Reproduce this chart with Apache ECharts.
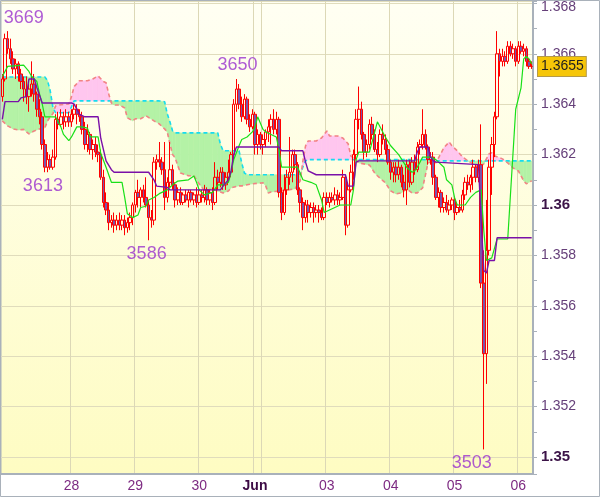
<!DOCTYPE html>
<html><head><meta charset="utf-8">
<script src="https://cdn.jsdelivr.net/npm/echarts/dist/echarts.min.js"></script>
<style>html,body{margin:0;padding:0;background:#fff}#c{width:600px;height:497px}</style>
</head><body><div id="c"></div>
<script>
// ---- DATA ----
const opens = [
1.3643,1.3650,1.3666,1.3662,1.3658,1.3654,1.3656,1.3652,1.3649,1.3646,
1.3643,1.3646,1.3648,1.3644,1.3638,1.3635,1.3624,1.3615,1.3618,1.3615,
1.3619,1.3634,1.3632,1.3635,1.3633,1.3635,1.3633,1.3636,1.3638,1.3636,
1.3635,1.3630,1.3624,1.3628,1.3622,1.3624,1.3621,1.3620,1.3611,1.3601,
1.3598,1.3593,1.3594,1.3592,1.3594,1.3592,1.3594,1.3591,1.3593,1.3595,
1.3600,1.3605,1.3603,1.3606,1.3603,1.3600,1.3595,1.3594,1.3617,1.3618,
1.3617,1.3614,1.3603,1.3609,1.3614,1.3608,1.3602,1.3605,1.3601,1.3604,
1.3602,1.3605,1.3602,1.3604,1.3601,1.3604,1.3603,1.3606,1.3602,1.3605,
1.3601,1.3611,1.3609,1.3613,1.3608,1.3611,1.3613,1.3620,1.3640,1.3646,
1.3640,1.3635,1.3642,1.3634,1.3631,1.3636,1.3624,1.3628,1.3624,1.3626,
1.3629,1.3631,1.3634,1.3630,1.3634,1.3605,1.3597,1.3606,1.3611,1.3613,
1.3620,1.3616,1.3606,1.3601,1.3595,1.3600,1.3597,1.3599,1.3597,1.3598,
1.3597,1.3595,1.3603,1.3601,1.3603,1.3602,1.3604,1.3602,1.3603,1.3611,
1.3592,1.3606,1.3613,1.3620,1.3634,1.3638,1.3628,1.3621,1.3624,1.3632,
1.3628,1.3622,1.3620,1.3628,1.3626,1.3622,1.3617,1.3613,1.3615,1.3612,
1.3615,1.3609,1.3606,1.3616,1.3609,1.3617,1.3614,1.3623,1.3624,1.3628,
1.3623,1.3618,1.3619,1.3611,1.3603,1.3605,1.3599,1.3601,1.3598,1.3600,
1.3602,1.3597,1.3599,1.3598,1.3604,1.3609,1.3608,1.3611,1.3615,1.3611,
1.3616,1.3569,1.3541,1.3582,1.3615,1.3624,1.3635,1.3660,1.3657,1.3659,
1.3657,1.3663,1.3660,1.3662,1.3657,1.3663,1.3661,1.3662,1.3657,1.3655];
const closes = [
1.3650,1.3666,1.3662,1.3658,1.3654,1.3656,1.3652,1.3649,1.3646,1.3643,
1.3646,1.3648,1.3644,1.3638,1.3635,1.3624,1.3615,1.3618,1.3615,1.3619,
1.3634,1.3632,1.3635,1.3633,1.3635,1.3633,1.3636,1.3638,1.3636,1.3635,
1.3630,1.3624,1.3628,1.3622,1.3624,1.3621,1.3620,1.3611,1.3601,1.3598,
1.3593,1.3594,1.3592,1.3594,1.3592,1.3594,1.3591,1.3593,1.3595,1.3600,
1.3605,1.3603,1.3606,1.3603,1.3600,1.3595,1.3594,1.3617,1.3618,1.3617,
1.3614,1.3603,1.3609,1.3614,1.3608,1.3602,1.3605,1.3601,1.3604,1.3602,
1.3605,1.3602,1.3604,1.3601,1.3604,1.3603,1.3606,1.3602,1.3605,1.3601,
1.3611,1.3609,1.3613,1.3608,1.3611,1.3613,1.3620,1.3640,1.3646,1.3640,
1.3635,1.3642,1.3634,1.3631,1.3636,1.3624,1.3628,1.3624,1.3626,1.3629,
1.3631,1.3634,1.3630,1.3634,1.3605,1.3597,1.3606,1.3611,1.3613,1.3620,
1.3616,1.3606,1.3601,1.3595,1.3600,1.3597,1.3599,1.3597,1.3598,1.3597,
1.3595,1.3603,1.3601,1.3603,1.3602,1.3604,1.3602,1.3603,1.3611,1.3592,
1.3606,1.3613,1.3620,1.3634,1.3638,1.3628,1.3621,1.3624,1.3632,1.3628,
1.3622,1.3620,1.3628,1.3626,1.3622,1.3617,1.3613,1.3615,1.3612,1.3615,
1.3609,1.3606,1.3616,1.3609,1.3617,1.3614,1.3623,1.3624,1.3628,1.3623,
1.3618,1.3619,1.3611,1.3603,1.3605,1.3599,1.3601,1.3598,1.3600,1.3602,
1.3597,1.3599,1.3598,1.3604,1.3609,1.3608,1.3611,1.3615,1.3611,1.3616,
1.3569,1.3541,1.3582,1.3615,1.3624,1.3635,1.3660,1.3657,1.3659,1.3657,
1.3663,1.3660,1.3662,1.3657,1.3663,1.3661,1.3662,1.3657,1.3655,1.3655];
const lows = [
1.3641,1.3649,1.3660,1.3656,1.3652,1.3650,1.3649,1.3646,1.3641,1.3640,
1.3637,1.3643,1.3641,1.3635,1.3632,1.3622,1.3613,1.3613,1.3614,1.3614,
1.3618,1.3630,1.3631,1.3630,1.3631,1.3631,1.3631,1.3634,1.3632,1.3633,
1.3628,1.3622,1.3621,1.3620,1.3618,1.3619,1.3617,1.3610,1.3599,1.3596,
1.3590,1.3591,1.3589,1.3590,1.3590,1.3590,1.3588,1.3589,1.3590,1.3592,
1.3597,1.3599,1.3599,1.3601,1.3599,1.3586,1.3591,1.3592,1.3614,1.3615,
1.3612,1.3598,1.3601,1.3607,1.3606,1.3599,1.3600,1.3600,1.3600,1.3601,
1.3599,1.3601,1.3600,1.3599,1.3600,1.3601,1.3601,1.3600,1.3600,1.3598,
1.3600,1.3606,1.3607,1.3606,1.3606,1.3609,1.3611,1.3618,1.3637,1.3638,
1.3633,1.3634,1.3632,1.3629,1.3630,1.3620,1.3620,1.3622,1.3620,1.3623,
1.3625,1.3624,1.3628,1.3628,1.3603,1.3594,1.3596,1.3604,1.3608,1.3609,
1.3614,1.3604,1.3597,1.3590,1.3593,1.3593,1.3595,1.3593,1.3595,1.3593,
1.3594,1.3594,1.3600,1.3599,1.3601,1.3600,1.3600,1.3600,1.3602,1.3588,
1.3591,1.3605,1.3610,1.3618,1.3630,1.3626,1.3618,1.3619,1.3622,1.3626,
1.3621,1.3617,1.3619,1.3624,1.3620,1.3616,1.3610,1.3609,1.3609,1.3610,
1.3607,1.3603,1.3600,1.3607,1.3608,1.3612,1.3613,1.3620,1.3622,1.3622,
1.3616,1.3616,1.3608,1.3602,1.3599,1.3597,1.3597,1.3597,1.3596,1.3598,
1.3594,1.3596,1.3597,1.3597,1.3602,1.3606,1.3605,1.3606,1.3609,1.3609,
1.3567,1.3503,1.3529,1.3580,1.3604,1.3619,1.3634,1.3651,1.3655,1.3655,
1.3656,1.3659,1.3658,1.3655,1.3656,1.3660,1.3659,1.3655,1.3654,1.3654];
const highs = [
1.3652,1.3668,1.3669,1.3666,1.3661,1.3658,1.3657,1.3654,1.3651,1.3651,
1.3648,1.3657,1.3652,1.3645,1.3642,1.3637,1.3626,1.3621,1.3620,1.3622,
1.3636,1.3637,1.3638,1.3637,1.3638,1.3637,1.3638,1.3640,1.3640,1.3638,
1.3637,1.3633,1.3632,1.3629,1.3626,1.3627,1.3624,1.3622,1.3614,1.3605,
1.3601,1.3596,1.3597,1.3596,1.3597,1.3596,1.3596,1.3595,1.3597,1.3601,
1.3606,1.3610,1.3607,1.3608,1.3611,1.3602,1.3598,1.3619,1.3620,1.3625,
1.3619,1.3625,1.3611,1.3625,1.3616,1.3609,1.3607,1.3607,1.3605,1.3606,
1.3606,1.3606,1.3605,1.3607,1.3606,1.3606,1.3608,1.3607,1.3606,1.3607,
1.3617,1.3614,1.3615,1.3615,1.3613,1.3618,1.3621,1.3642,1.3650,1.3648,
1.3643,1.3644,1.3643,1.3636,1.3638,1.3637,1.3630,1.3629,1.3628,1.3630,
1.3634,1.3636,1.3638,1.3637,1.3635,1.3607,1.3612,1.3614,1.3627,1.3622,
1.3622,1.3617,1.3607,1.3603,1.3602,1.3602,1.3601,1.3601,1.3600,1.3600,
1.3599,1.3605,1.3605,1.3605,1.3605,1.3607,1.3606,1.3605,1.3614,1.3612,
1.3608,1.3616,1.3622,1.3638,1.3647,1.3641,1.3629,1.3626,1.3634,1.3635,
1.3630,1.3625,1.3630,1.3632,1.3628,1.3624,1.3618,1.3617,1.3617,1.3618,
1.3616,1.3612,1.3618,1.3618,1.3619,1.3620,1.3625,1.3626,1.3638,1.3630,
1.3624,1.3621,1.3621,1.3612,1.3607,1.3606,1.3603,1.3604,1.3602,1.3603,
1.3603,1.3601,1.3602,1.3606,1.3611,1.3612,1.3612,1.3618,1.3616,1.3618,
1.3632,1.3582,1.3602,1.3618,1.3627,1.3637,1.3669,1.3662,1.3662,1.3661,
1.3665,1.3665,1.3664,1.3663,1.3665,1.3665,1.3664,1.3663,1.3658,1.3657];

// conversion line (green), base line (purple): [bar index, value]
const tenkan = [[0,1.3651],[2,1.3655],[8,1.36555],[10,1.3653],[11,1.3651],[13,1.3649],[14,1.3644],[15,1.3640],[16,1.3635],[20,1.3635],[22,1.3631],[23,1.3628],[25,1.36255],[26,1.3627],[28,1.3631],[30,1.3631],[32,1.36305],[33,1.3627],[36,1.3627],[37,1.36205],[39,1.3615],[41,1.3609],[45,1.3609],[46,1.3603],[47,1.35965],[49,1.3595],[51,1.3596],[52,1.3599],[54,1.35995],[55,1.3602],[57,1.3603],[59,1.36045],[62,1.3606],[64,1.3608],[66,1.36095],[70,1.3610],[72,1.36115],[73,1.3609],[74,1.3606],[76,1.3604],[79,1.3605],[81,1.3608],[83,1.3608],[85,1.3609],[86,1.3613],[87,1.3618],[89,1.36235],[90,1.3626],[92,1.3627],[94,1.3629],[95,1.3631],[96,1.3635],[98,1.3630],[99,1.3629],[101,1.3628],[103,1.3627],[104,1.3622],[105,1.3615],[111,1.3615],[113,1.3610],[116,1.3609],[118,1.3608],[120,1.3602],[121,1.3597],[124,1.35985],[127,1.3600],[131,1.3600],[132,1.3606],[133,1.3618],[134,1.3621],[138,1.3621],[141,1.3633],[143,1.3629],[144,1.3627],[146,1.36235],[149,1.3620],[152,1.3615],[154,1.3613],[155,1.36135],[156,1.3615],[158,1.3619],[161,1.3619],[163,1.3618],[166,1.3615],[167,1.3610],[169,1.3608],[170,1.3603],[171,1.3600],[174,1.3600],[176,1.3603],[177,1.3604],[178,1.3605],[180,1.3606],[181,1.3590],[182,1.3578],[184,1.3579],[186,1.35865],[190,1.35865],[193,1.3638],[195,1.36465],[196,1.3658],[197,1.3659],[198,1.3658],[199,1.3656]];
const kijun = [[0,1.3634],[1,1.3641],[6,1.3641],[7,1.36425],[9,1.3643],[10,1.3650],[12,1.3650],[13,1.36465],[15,1.36405],[26,1.36405],[27,1.3640],[29,1.3636],[31,1.3635],[36,1.3635],[37,1.36265],[39,1.36175],[41,1.3614],[42,1.3613],[55,1.3613],[57,1.3610],[58,1.36075],[62,1.3607],[63,1.3606],[82,1.3606],[83,1.36075],[85,1.3610],[86,1.36135],[87,1.3620],[88,1.3623],[104,1.3623],[105,1.36215],[113,1.36215],[114,1.3617],[115,1.36135],[118,1.3612],[129,1.3612],[130,1.36075],[132,1.36075],[133,1.3617],[134,1.36175],[155,1.36175],[156,1.3621],[157,1.3623],[160,1.3623],[161,1.3619],[162,1.36175],[163,1.3617],[179,1.3616],[180,1.3594],[181,1.3574],[182,1.3573],[183,1.3578],[185,1.3578],[186,1.3587],[199,1.3587]];

// leading spans (same bar indices in both lists)
const spanA = [[0,1.36334],[2,1.36314],[4,1.36302],[6,1.36298],[8,1.3630],[10,1.36282],[12,1.36294],[14,1.36302],[16,1.36306],[17,1.36334],[18,1.3635],[19,1.36362],[20,1.36393],[21,1.36397],[25,1.36401],[26,1.3643],[27,1.3647],[29,1.36493],[32,1.36493],[34,1.3650],[36,1.36512],[38,1.3649],[39,1.36485],[40,1.3644],[41,1.36405],[42,1.36397],[44,1.36397],[46,1.36385],[47,1.36346],[49,1.36334],[50,1.36342],[52,1.36342],[54,1.36354],[57,1.36334],[59,1.36322],[61,1.36302],[62,1.3629],[63,1.36243],[64,1.3620],[65,1.36187],[66,1.36155],[67,1.36127],[70,1.36116],[72,1.36116],[74,1.36084],[76,1.36056],[79,1.36064],[81,1.36055],[82,1.36052],[83,1.36048],[85,1.36056],[86,1.36068],[89,1.36076],[90,1.36076],[91,1.36078],[92,1.3608],[94,1.36084],[98,1.36088],[99,1.36076],[100,1.36048],[101,1.36052],[105,1.36056],[110,1.36064],[112,1.36096],[113,1.36175],[114,1.36235],[115,1.36254],[118,1.36254],[120,1.36266],[122,1.36294],[123,1.36274],[126,1.36274],[128,1.36266],[130,1.36243],[131,1.36195],[133,1.36178],[134,1.36167],[138,1.36159],[140,1.36127],[141,1.36116],[144,1.36088],[146,1.36056],[148,1.36044],[150,1.36048],[152,1.36064],[154,1.36048],[156,1.36048],[158,1.36068],[159,1.36116],[160,1.36167],[162,1.36175],[163,1.36167],[164,1.36187],[166,1.36227],[168,1.3625],[169,1.36235],[171,1.36215],[173,1.36191],[175,1.36175],[177,1.36163],[179,1.36147],[181,1.36163],[183,1.36203],[184,1.36207],[185,1.36195],[188,1.36183],[190,1.36167],[192,1.36147],[194,1.36135],[196,1.36096],[197,1.36084],[199,1.36096]];
const spanB = [[0,1.36508],[2,1.36508],[4,1.36508],[6,1.36508],[8,1.36508],[10,1.36508],[12,1.36508],[14,1.36508],[16,1.36508],[17,1.36493],[18,1.36453],[19,1.36388],[20,1.36366],[21,1.36366],[25,1.36366],[26,1.3639],[27,1.36413],[29,1.36413],[32,1.36413],[34,1.36413],[36,1.36413],[38,1.36413],[39,1.36413],[40,1.36413],[41,1.36413],[42,1.36413],[44,1.36413],[46,1.36413],[47,1.36413],[49,1.36413],[50,1.36413],[52,1.36413],[54,1.36413],[57,1.36413],[59,1.36413],[61,1.3641],[62,1.36362],[63,1.3633],[64,1.36294],[65,1.36286],[66,1.36286],[67,1.36286],[70,1.36286],[72,1.36286],[74,1.36286],[76,1.36286],[79,1.36286],[81,1.36286],[82,1.3624],[83,1.36215],[85,1.36215],[86,1.36215],[89,1.36215],[90,1.36167],[91,1.36127],[92,1.3612],[94,1.3612],[98,1.3612],[99,1.3612],[100,1.3612],[101,1.3612],[105,1.3612],[110,1.3612],[112,1.36123],[113,1.36151],[114,1.36175],[115,1.3618],[118,1.3618],[120,1.3618],[122,1.3618],[123,1.3618],[126,1.3618],[128,1.3618],[130,1.3618],[131,1.3618],[133,1.3618],[134,1.3618],[138,1.3618],[140,1.3618],[141,1.3618],[144,1.3618],[146,1.3618],[148,1.3618],[150,1.3618],[152,1.3618],[154,1.3618],[156,1.3618],[158,1.3618],[159,1.3618],[160,1.3618],[162,1.36178],[163,1.36175],[164,1.36175],[166,1.36175],[168,1.36175],[169,1.36175],[171,1.36175],[173,1.36175],[175,1.36175],[177,1.36175],[179,1.36175],[181,1.36175],[183,1.36175],[184,1.36175],[185,1.36175],[188,1.36175],[190,1.36175],[192,1.36175],[194,1.36175],[196,1.36175],[197,1.36175],[199,1.36175]];

// x-axis day labels and their bar indices; extra grid line at the Jun 2 start
const dayIdx = [26, 50, 74, 95, 122, 146, 170, 194];
const dayLabels = ['28', '29', '30', 'Jun', '03', '04', '05', '06'];
const dayLineIdx = [26, 50, 74, 95, 98, 122, 146, 170, 194];

// high / low annotations
const markIdx = [2, 16, 88, 55, 181];
const markVal = [1.3669, 1.3613, 1.3650, 1.3586, 1.3503];
const markText = ['3669', '3613', '3650', '3586', '3503'];
const markKind = ['high', 'low', 'high', 'low', 'low'];

// ---- LAYOUT / STYLE ----
const Y_MIN = 1.349325, Y_MAX = 1.368095;
const markDx = [16, -2, 1, -2, -12];
const GREEN_FILL = '#b4f2a6', PINK_FILL = '#ffc6ef';
const FRAME = '#a9b1ba';
const FONT = '"Liberation Sans", Arial, sans-serif';

const cats = opens.map((_, i) => String(i));
const candles = opens.map((o, i) => [o, closes[i], lows[i], highs[i]]);
const lastClose = closes[closes.length - 1];

function poly(points, c) {
  return { type: 'polygon', shape: { points: points }, style: { fill: c, stroke: c, lineWidth: 0.6 } };
}
function cloudRender(params, api) {
  const kids = [];
  for (let k = 0; k < spanA.length - 1; k++) {
    const i0 = spanA[k][0], a0 = spanA[k][1], i1 = spanA[k + 1][0], a1 = spanA[k + 1][1];
    const b0 = spanB[k][1], b1 = spanB[k + 1][1];
    const pa0 = api.coord([i0, a0]), pa1 = api.coord([i1, a1]);
    const pb0 = api.coord([i0, b0]), pb1 = api.coord([i1, b1]);
    const d0 = a0 - b0, d1 = a1 - b1;
    if (d0 * d1 >= 0) {
      kids.push(poly([pa0, pa1, pb1, pb0], (d0 + d1) > 0 ? PINK_FILL : GREEN_FILL));
    } else {
      const t = d0 / (d0 - d1);
      const px = [pa0[0] + t * (pa1[0] - pa0[0]), pa0[1] + t * (pa1[1] - pa0[1])];
      kids.push(poly([pa0, px, pb0], d0 > 0 ? PINK_FILL : GREEN_FILL));
      kids.push(poly([px, pa1, pb1], d1 > 0 ? PINK_FILL : GREEN_FILL));
    }
  }
  return { type: 'group', children: kids };
}

const chart = echarts.init(document.getElementById('c'));
chart.setOption({
  animation: false,
  backgroundColor: '#ffffff',
  textStyle: { fontFamily: FONT },
  grid: {
    left: 1, right: 67, top: 1, bottom: 23, show: true,
    borderColor: FRAME, borderWidth: 1,
    backgroundColor: { type: 'linear', x: 0, y: 0, x2: 0, y2: 1,
      colorStops: [{ offset: 0, color: '#fffff3' }, { offset: 1, color: '#fefcc2' }] }
  },
  xAxis: {
    type: 'category', data: cats, boundaryGap: true,
    axisLine: { show: true, lineStyle: { color: FRAME, width: 2 } },
    axisTick: { show: false },
    axisLabel: {
      interval: (i) => dayIdx.indexOf(i) >= 0,
      formatter: (v, i) => {
        const k = dayIdx.indexOf(Number(v));
        if (k < 0) return '';
        return dayLabels[k] === 'Jun' ? '{b|Jun}' : dayLabels[k];
      },
      color: '#7d2a82', fontSize: 14, margin: 5, fontFamily: FONT,
      rich: { b: { fontWeight: 'bold', color: '#3c0a44', fontSize: 14, fontFamily: FONT } }
    },
    splitLine: { show: true, interval: (i) => dayLineIdx.indexOf(i) >= 0, lineStyle: { color: '#dcd8b6', width: 1 } }
  },
  yAxis: {
    type: 'value', position: 'right', min: Y_MIN, max: Y_MAX, splitNumber: 9,
    axisLine: { show: true, lineStyle: { color: FRAME, width: 2 } },
    axisTick: { show: true, length: 4, lineStyle: { color: FRAME } },
    minorTick: { show: true, splitNumber: 2, length: 4, lineStyle: { color: FRAME } },
    splitLine: { show: true, lineStyle: { color: '#e0dcbc' } },
    axisLabel: {
      showMinLabel: false, showMaxLabel: false, margin: 8,
      color: '#66407a', fontSize: 14, fontFamily: FONT,
      formatter: (v) => {
        const s = String(parseFloat(v.toFixed(3)));
        const bold = Math.abs(v * 100 - Math.round(v * 100)) < 1e-6;
        if (bold) return '{b|' + s + '}';
        if (Y_MAX - v < 0.0005) return '{t|' + s + '}';
        return s;
      },
      rich: {
        b: { fontWeight: 'bold', fontSize: 15, color: '#3c1448', fontFamily: FONT },
        t: { fontSize: 14, color: '#66407a', padding: [8, 0, 0, 0], fontFamily: FONT }
      }
    }
  },
  series: [
    { type: 'custom', name: 'cloud', renderItem: cloudRender, data: [[0, 1.36]], z: 1, silent: true },
    { type: 'line', name: 'spanB', data: spanB, showSymbol: false, symbol: 'none', z: 2, silent: true,
      lineStyle: { color: '#16dcf0', width: 1.6, type: [4, 3] } },
    { type: 'line', name: 'spanA', data: spanA, showSymbol: false, symbol: 'none', z: 2, silent: true,
      lineStyle: { color: '#f28484', width: 1.6, type: [4, 3] } },
    { type: 'candlestick', name: 'price', data: candles, z: 3, barWidth: 3,
      itemStyle: { color: 'rgba(255,255,255,0)', color0: '#7a55aa', borderColor: '#ff0000', borderColor0: '#ff0000', borderWidth: 1 } },
    { type: 'line', name: 'tenkan', data: tenkan, showSymbol: false, symbol: 'none', z: 4, silent: true,
      lineStyle: { color: '#18e018', width: 1.2 } },
    { type: 'line', name: 'kijun', data: kijun, showSymbol: false, symbol: 'none', z: 4, silent: true,
      lineStyle: { color: '#7a10a8', width: 1.4 } },
    { type: 'scatter', name: 'marks', z: 6, silent: true, symbolSize: 1,
      itemStyle: { color: 'rgba(0,0,0,0)' },
      label: { show: true, color: '#9a32cd', fontSize: 18,
        fontFamily: '"Liberation Sans Narrow", "Liberation Sans", Arial, sans-serif' },
      data: markIdx.map((ix, k) => ({
        value: [ix, markVal[k]],
        label: { formatter: markText[k], position: markKind[k] === 'high' ? 'top' : 'bottom', distance: 4, offset: [markDx[k], 0] }
      }))
    }
  ]
});

// last-price tag on the value axis, placed through the chart's own scales
const N = closes.length;
const yTag = chart.convertToPixel({ yAxisIndex: 0 }, lastClose);
const xLast = chart.convertToPixel({ xAxisIndex: 0 }, N - 1);
const xPrev = chart.convertToPixel({ xAxisIndex: 0 }, N - 2);
const xAxisEnd = xLast + (xLast - xPrev) / 2;
chart.setOption({
  graphic: [
    { type: 'rect', z: 100, silent: true,
      shape: { x: 0.5, y: 0.5, width: 599, height: 496 },
      style: { fill: 'none', stroke: FRAME, lineWidth: 1 } },
    { type: 'text', z: 101, silent: true, x: xAxisEnd + 5, y: yTag,
      style: { text: lastClose.toFixed(4), fill: '#1e1e1e', font: '14px "Liberation Sans", Arial, sans-serif',
        align: 'left', verticalAlign: 'middle',
        backgroundColor: '#f6c608', borderColor: '#b49a48', borderWidth: 1, padding: [3, 2, 2, 3] } }
  ]
});
</script>
</body></html>
